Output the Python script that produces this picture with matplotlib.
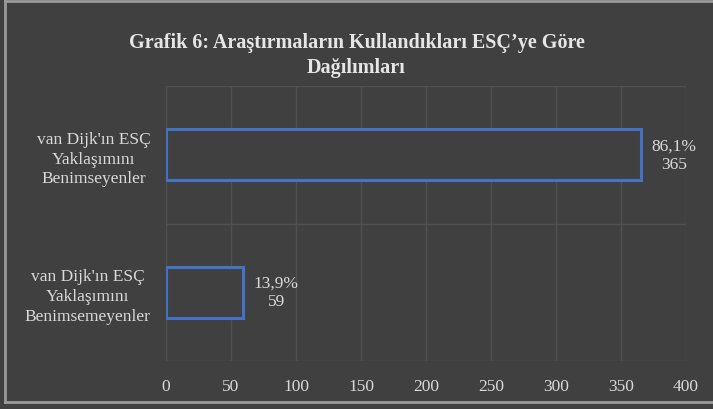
import matplotlib.pyplot as plt
from matplotlib.lines import Line2D

# data
categories = ["van Dijk'ın ESÇ\nYaklaşımını\nBenimsemeyenler",
              "van Dijk'ın ESÇ\nYaklaşımını\nBenimseyenler"]
counts = [59, 365]
percents = ["13,9%", "86,1%"]
xticks = [0, 50, 100, 150, 200, 250, 300, 350, 400]

bg = '#404040'
txt = '#d9d9d9'
grid = '#505050'
blue = '#4472C4'

plt.rcParams['font.family'] = ['Liberation Serif', 'DejaVu Serif']

fig = plt.figure(figsize=(7.13, 4.10), dpi=100, facecolor=bg)
ax = fig.add_axes([166/713, 48/410, 520/713, 275/410])
ax.set_facecolor(bg)

y = range(len(categories))
ax.barh(y, counts, height=0.37, facecolor=bg, edgecolor=blue, linewidth=2.2, zorder=3)

for i, (c, p) in enumerate(zip(counts, percents)):
    ax.annotate(p + "\n" + str(c), xy=(c, i), xytext=(8, 0), textcoords='offset points',
                ha='left', va='center', multialignment='center', color=txt, fontsize=12.5)

ax.set_xlim(0, 400)
ax.set_ylim(-0.5, 1.5)
ax.set_xticks(xticks)
ax.set_xticklabels([str(t) for t in xticks])
ax.set_yticks(list(y))
ax.set_yticklabels(categories, multialignment='center', linespacing=1.3)
ax.set_yticks([-0.5, 0.5, 1.5], minor=True)

ax.tick_params(axis='x', length=0, pad=12, colors=txt, labelsize=12.5)
ax.tick_params(axis='y', which='both', length=0, pad=11, colors=txt, labelsize=12.5)
ax.grid(axis='x', color=grid, linewidth=1, zorder=0)
ax.grid(axis='y', which='minor', color=grid, linewidth=1, zorder=0)
for s in ax.spines.values():
    s.set_visible(False)

fig.suptitle("Grafik 6: Araştırmaların Kullandıkları ESÇ’ye Göre\nDağılımları",
             x=0.5, y=0.92, va='top', color='#e6e6e6', fontsize=14.5, fontweight='bold',
             linespacing=1.35)

# outer frame
fc = '#9a9a9a'
fig.add_artist(Line2D([5/713, 5/713], [7/410, 408/410], color=fc, lw=2, transform=fig.transFigure))
fig.add_artist(Line2D([5/713, 1], [408/410, 408/410], color=fc, lw=2, transform=fig.transFigure))
fig.add_artist(Line2D([5/713, 1], [7/410, 7/410], color=fc, lw=2, transform=fig.transFigure))

fig.savefig('out.png', dpi=100, facecolor=bg)
